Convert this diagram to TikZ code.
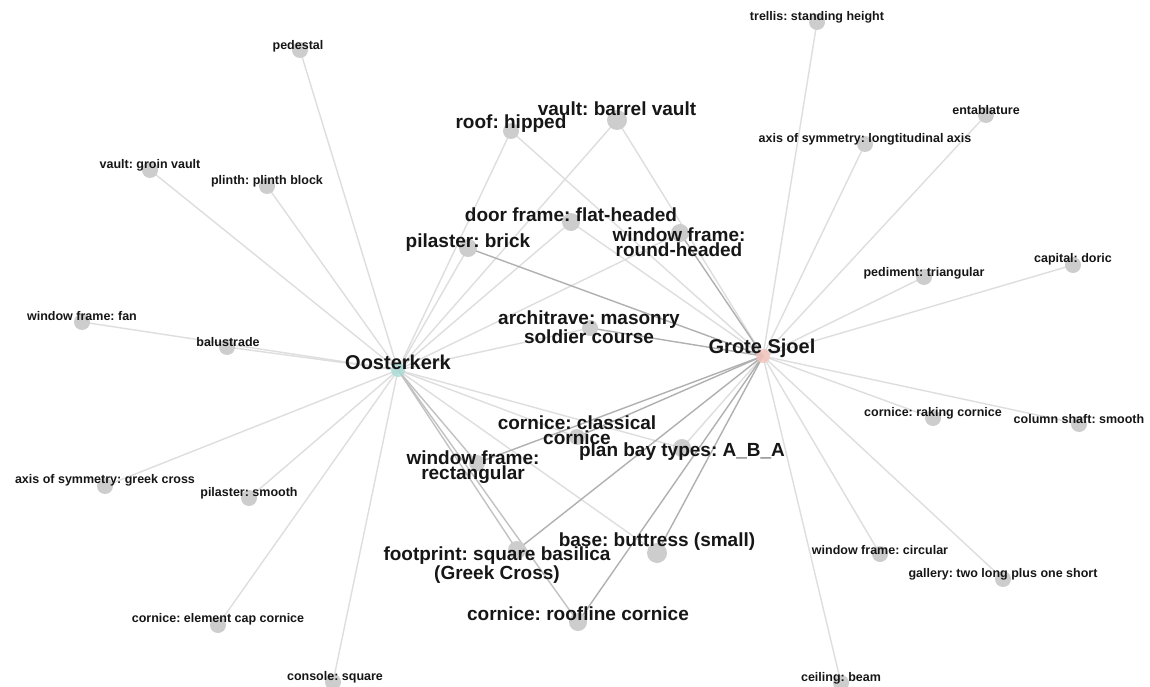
\documentclass[tikz,border=0pt]{standalone}
\usepackage{fontspec}
\setmainfont{Liberation Sans}
\frenchspacing
\usetikzlibrary{backgrounds}
\definecolor{edgelight}{HTML}{DEDEDE}
\definecolor{edgedark}{HTML}{B0B0B0}
\definecolor{leaffill}{HTML}{CDCDCD}
\definecolor{labeltext}{HTML}{161616}
\definecolor{hubteal}{HTML}{A8DCD6}
\definecolor{hubpink}{HTML}{F6C4BC}
\begin{document}
\begin{tikzpicture}[x=1pt,y=-1pt,
  leaf/.style={circle,fill=leaffill,inner sep=0pt,minimum size=16pt},
  bigleaf/.style={circle,fill=leaffill,inner sep=0pt,minimum size=20pt},
  small/.style={text=labeltext,inner sep=0pt,font=\bfseries\fontsize{12.5}{14}\selectfont},
  large/.style={text=labeltext,inner sep=0pt,align=center,font=\bfseries\fontsize{19}{14.5}\selectfont},
  hublabel/.style={text=labeltext,inner sep=0pt,font=\bfseries\fontsize{20}{22}\selectfont},
  lite/.style={draw=edgelight,line width=1.4pt},
  dark/.style={draw=edgedark,line width=1.4pt}]
\useasboundingbox (0,0) rectangle (1150,687);

% hubs
\node[circle,fill=hubteal,inner sep=0pt,minimum size=14pt,opacity=0.8] (o) at (398,370) {};
\node[circle,fill=hubpink,inner sep=0pt,minimum size=14pt,opacity=0.8] (g) at (763,356) {};

% Oosterkerk leaves
\node[leaf] (pe) at (300,50) {};
\node[leaf] (gv) at (150,170) {};
\node[leaf] (pb) at (267,186) {};
\node[leaf] (wf) at (82,322) {};
\node[leaf] (ba) at (227,347) {};
\node[leaf] (ag) at (105,486) {};
\node[leaf] (ps) at (249,498) {};
\node[leaf] (ce) at (218,625) {};
\node[leaf] (cs) at (333,682) {};

% Grote Sjoel leaves
\node[leaf] (tr) at (817,22) {};
\node[leaf] (en) at (986,115) {};
\node[leaf] (al) at (865,144) {};
\node[leaf] (pt) at (924,277) {};
\node[leaf] (cd) at (1073,265) {};
\node[leaf] (rc) at (933,418) {};
\node[leaf] (sm) at (1079,424) {};
\node[leaf] (wc) at (880,554) {};
\node[leaf] (ga) at (1003,579) {};
\node[leaf] (cb) at (841,683) {};

% shared attributes
\node[leaf] (rh) at (511,131) {};
\node[bigleaf] (bv) at (617,120) {};
\node[leaf,minimum size=18pt] (df) at (571,222) {};
\node[leaf,minimum size=18pt] (wr) at (680,233) {};
\node[leaf,minimum size=18pt] (pk) at (468,248) {};
\node[leaf] (ar) at (590,328) {};
\node[leaf] (cc) at (577,437) {};
\node[leaf,minimum size=18pt] (pt2) at (682,448) {};
\node[leaf] (wre) at (477,463) {};
\node[leaf,minimum size=18pt] (fp) at (517,550) {};
\node[bigleaf] (bb) at (657,553) {};
\node[leaf,minimum size=18pt] (rf) at (578,622) {};

\begin{scope}[on background layer]
  \fill[white] (0,0) rectangle (1150,687);
  \foreach \n in {pe,gv,pb,wf,ba,ag,ps,ce,cs,rh,bv,df,wr,pk,ar,cc,pt2,bb}
    \draw[lite] (o.center) -- (\n.center);
  \foreach \n in {wre,fp,rf}
    \draw[lite,draw=edgedark!60!edgelight] (o.center) -- (\n.center);
  \foreach \n in {tr,en,al,pt,cd,rc,sm,wc,ga,cb,rh,bv,df,pt2}
    \draw[lite] (g.center) -- (\n.center);
  \foreach \n in {pk,wr,ar,cc,wre,fp,bb,rf}
    \draw[dark] (g.center) -- (\n.center);
\end{scope}

% labels
\node[hublabel] (lo) at (398,362) {Oosterkerk};
\node[hublabel] (lg) at (762,348) {Grote Sjoel};

\node[small] (lpe) at (298,46) {pedestal};
\node[small] (lgv) at (150,165) {vault: groin vault};
\node[small] (lpb) at (267,181) {plinth: plinth block};
\node[small] (lwf) at (82,316) {window frame: fan};
\node[small] (lba) at (228,342) {balustrade};
\node[small] (lag) at (105,480) {axis of symmetry: greek cross};
\node[small] (lps) at (249,493) {pilaster: smooth};
\node[small] (lce) at (218,619) {cornice: element cap cornice};
\node[small] (lcs) at (335,677) {console: square};

\node[small] (ltr) at (817,17) {trellis: standing height};
\node[small] (len) at (986,110) {entablature};
\node[small] (lal) at (865,139) {axis of symmetry: longtitudinal axis};
\node[small] (lpt) at (924,273) {pediment: triangular};
\node[small] (lcd) at (1073,259) {capital: doric};
\node[small] (lrc) at (933,413) {cornice: raking cornice};
\node[small] (lsm) at (1079,419) {column shaft: smooth};
\node[small] (lwc) at (880,550) {window frame: circular};
\node[small] (lga) at (1003,574) {gallery: two long plus one short};
\node[small] (lcb) at (841,678) {ceiling: beam};

\node[large] (lrh) at (511,124) {roof: hipped};
\node[large] (lbv) at (617,109) {vault: barrel vault};
\node[large] (ldf) at (571,215) {door frame: flat-headed};
\node[large] (lwr) at (679,242) {window frame:\\round-headed};
\node[large] (lpk) at (468,243) {pilaster: brick};
\node[large] (lar) at (589,327) {architrave: masonry\\soldier course};
\node[large] (lcc) at (577,430) {cornice: classical\\cornice};
\node[large] (lpt2) at (682,452) {plan bay types: A\_B\_A};
\node[large] (lwre) at (473,467) {window frame:\\rectangular};
\node[large] (lfp) at (497,565) {footprint: square basilica\\(Greek Cross)};
\node[large] (lbb) at (657,542) {base: buttress (small)};
\node[large] (lrf) at (578,614) {cornice: roofline cornice};
\end{tikzpicture}
\end{document}
